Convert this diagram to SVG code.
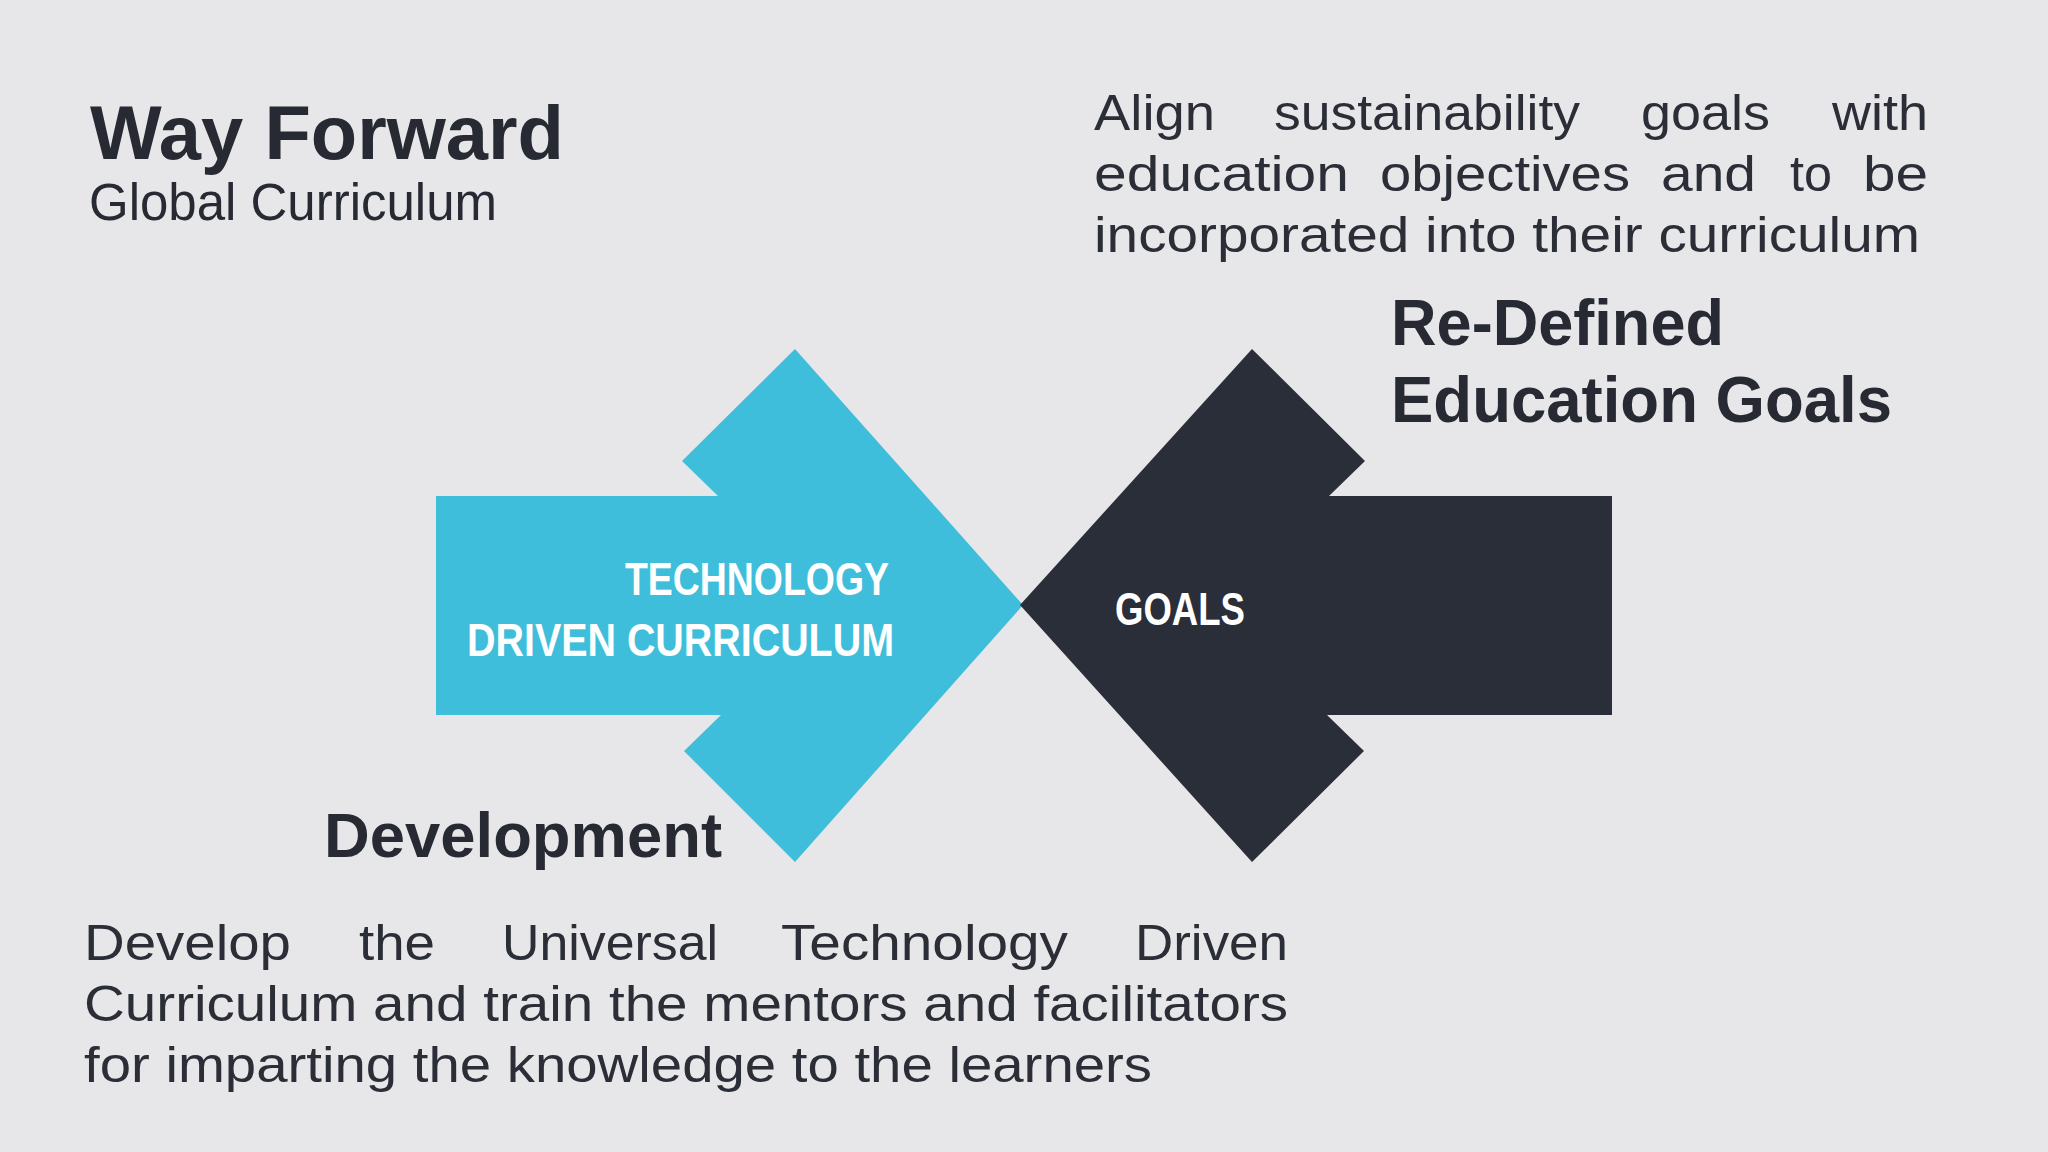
<svg xmlns="http://www.w3.org/2000/svg" width="2048" height="1152" viewBox="0 0 2048 1152">
  <style>
    .head { font-family: "Liberation Sans", Arial, sans-serif; font-weight: bold; fill: #272a33; }
    .sub { font-family: "Liberation Sans", Arial, sans-serif; font-weight: normal; fill: #272a33; }
    .para { font-family: "Liberation Sans", Arial, sans-serif; font-size: 50px; fill: #2b2e37; }
    .lbl { font-family: "Liberation Sans Narrow", "Liberation Sans", Arial, sans-serif; font-weight: bold; font-size: 47px; fill: #ffffff; }
  </style>
  <rect x="0" y="0" width="2048" height="1152" fill="#e7e7e9"/>

  <g id="title">
    <text class="head" x="90" y="159" font-size="76" textLength="474" lengthAdjust="spacingAndGlyphs">Way Forward</text>
    <text class="sub" x="89" y="220" font-size="51" textLength="408" lengthAdjust="spacingAndGlyphs">Global Curriculum</text>
  </g>

  <g id="node-technology">
    <polygon points="436,496 718,496 682,461 795,349 1023,605 795,862 684,751 721,715 436,715" fill="#3ebedb"/>
    <text class="lbl" x="625" y="595" textLength="264" lengthAdjust="spacingAndGlyphs">TECHNOLOGY</text>
    <text class="lbl" x="467" y="656" textLength="427" lengthAdjust="spacingAndGlyphs">DRIVEN CURRICULUM</text>
  </g>

  <g id="node-goals">
    <polygon points="1612,496 1329,496 1365,461 1252,349 1020,605 1252,862 1364,751 1327,715 1612,715" fill="#2a2e38"/>
    <text class="lbl" x="1115" y="625" textLength="130" lengthAdjust="spacingAndGlyphs">GOALS</text>
  </g>

  <g id="connectors"></g>

  <g id="redefined">
    <text class="head" x="1391" y="345" font-size="64" textLength="333" lengthAdjust="spacingAndGlyphs">Re-Defined</text>
    <text class="head" x="1391" y="422" font-size="64" textLength="501" lengthAdjust="spacingAndGlyphs">Education Goals</text>
  </g>

  <g id="align-text" class="para">
    <text x="1094" y="129.5" textLength="121" lengthAdjust="spacingAndGlyphs">Align</text>
    <text x="1274" y="129.5" textLength="306" lengthAdjust="spacingAndGlyphs">sustainability</text>
    <text x="1641" y="129.5" textLength="129" lengthAdjust="spacingAndGlyphs">goals</text>
    <text x="1832" y="129.5" textLength="96" lengthAdjust="spacingAndGlyphs">with</text>
    <text x="1094" y="190.5" textLength="255" lengthAdjust="spacingAndGlyphs">education</text>
    <text x="1380" y="190.5" textLength="250" lengthAdjust="spacingAndGlyphs">objectives</text>
    <text x="1661" y="190.5" textLength="95" lengthAdjust="spacingAndGlyphs">and</text>
    <text x="1790" y="190.5" textLength="42" lengthAdjust="spacingAndGlyphs">to</text>
    <text x="1863" y="190.5" textLength="65" lengthAdjust="spacingAndGlyphs">be</text>
    <text x="1094" y="251.5" textLength="826" lengthAdjust="spacingAndGlyphs">incorporated into their curriculum</text>
  </g>

  <g id="development">
    <text class="head" x="324" y="857" font-size="63" textLength="398" lengthAdjust="spacingAndGlyphs">Development</text>
  </g>

  <g id="develop-text" class="para">
    <text x="84" y="959.5" textLength="207" lengthAdjust="spacingAndGlyphs">Develop</text>
    <text x="359" y="959.5" textLength="76" lengthAdjust="spacingAndGlyphs">the</text>
    <text x="502" y="959.5" textLength="216" lengthAdjust="spacingAndGlyphs">Universal</text>
    <text x="781" y="959.5" textLength="287" lengthAdjust="spacingAndGlyphs">Technology</text>
    <text x="1135" y="959.5" textLength="153" lengthAdjust="spacingAndGlyphs">Driven</text>
    <text x="84" y="1020.5" textLength="1204" lengthAdjust="spacingAndGlyphs">Curriculum and train the mentors and facilitators</text>
    <text x="84" y="1081.5" textLength="1068" lengthAdjust="spacingAndGlyphs">for imparting the knowledge to the learners</text>
  </g>
</svg>
